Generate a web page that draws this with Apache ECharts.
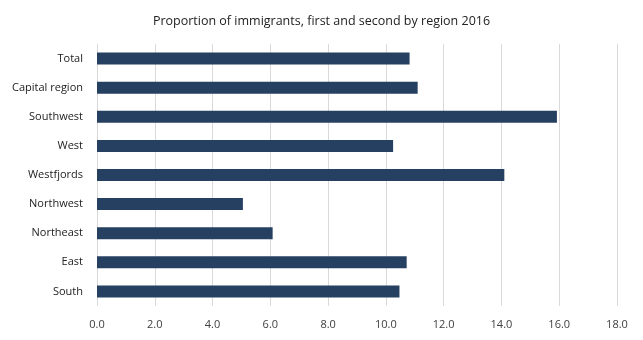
<!DOCTYPE html>
<html><head><meta charset="utf-8">
<script src="https://cdn.jsdelivr.net/npm/echarts@6/dist/echarts.min.js"></script>
<style>html,body{margin:0;padding:0;background:#fff}#c{width:643px;height:340px}</style>
</head><body><div id="c"></div>
<script>
var categories = ["Total","Capital region","Southwest","West","Westfjords","Northwest","Northeast","East","South"];
var values = [10.82, 11.10, 15.92, 10.25, 14.10, 5.05, 6.08, 10.72, 10.47];
var titleText = "Proportion of immigrants, first and second by region 2016";
var chart = echarts.init(document.getElementById('c'), null, {renderer:'canvas'});
chart.setOption({
  animation:false,
  title:{text:titleText,left:'center',top:10,textStyle:{fontFamily:'Open Sans',fontSize:12.5,fontWeight:'normal',color:'#222'}},
  grid:{left:97,right:26,top:44,bottom:34,containLabel:false},
  xAxis:{type:'value',min:0,max:18,interval:2,
    axisLabel:{formatter:function(v){return v.toFixed(1);},color:'#404040',fontFamily:'Open Sans',fontSize:11,margin:13},
    axisLine:{show:false},axisTick:{show:false},
    splitLine:{lineStyle:{color:'#d9d9d9',width:1}}},
  yAxis:{type:'category',inverse:true,data:categories,
    axisLabel:{color:'#222',fontFamily:'Open Sans',fontSize:11,margin:14},
    axisLine:{show:false},axisTick:{show:false}},
  series:[{type:'bar',data:values,barWidth:12,itemStyle:{color:'#264061'}}]
});
</script></body></html>
